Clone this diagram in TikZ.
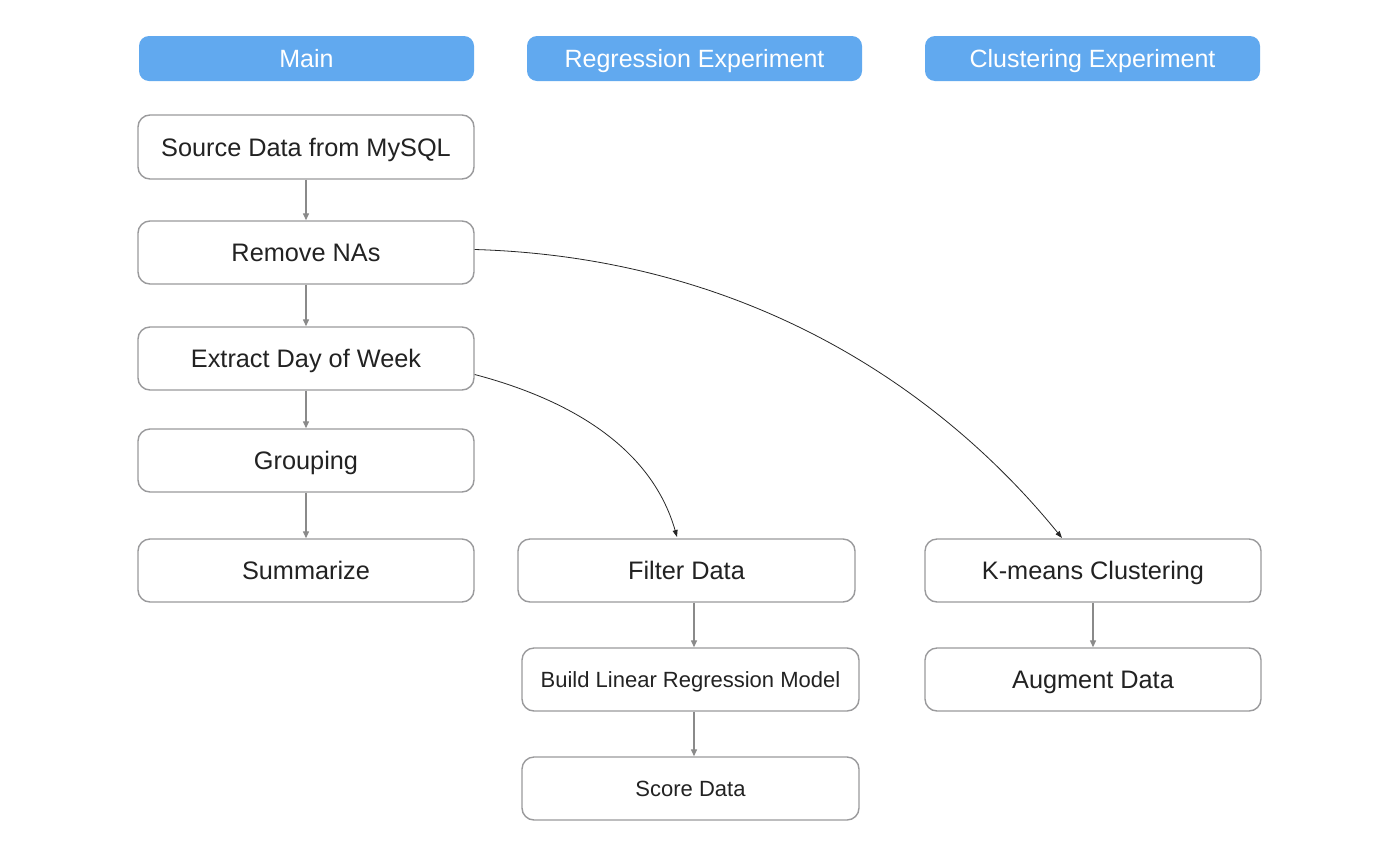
\documentclass[tikz,border=0pt]{standalone}
\usepackage{fontspec}
\setmainfont{Liberation Sans}
\usetikzlibrary{arrows.meta,calc}
\definecolor{hdr}{HTML}{61A9EF}
\definecolor{bord}{HTML}{9A9A9C}
\definecolor{txt}{HTML}{222222}
\definecolor{arr}{HTML}{8A8A8A}
\tikzset{
  hbox/.style={fill=hdr, draw=none, rounded corners=10pt, minimum width=335pt, minimum height=45pt, inner sep=0pt, text=white, font=\fontsize{25}{29}\selectfont, text height=18pt, text depth=0pt},
  pbox/.style={fill=white, draw=bord, line width=1.4pt, rounded corners=12pt, minimum width=336pt, minimum height=63pt, inner sep=0pt, text=txt, font=\fontsize{25.3}{29}\selectfont, text height=18.1pt, text depth=0pt},
  sbox/.style={pbox, font=\fontsize{22}{26}\selectfont, text height=15.8pt},
  varr/.style={draw=arr, line width=1.3pt, -{Triangle[length=7pt,width=6pt]}},
  carr/.style={draw=black!85, line width=0.8pt, -{Triangle[length=7pt,width=5pt]}}
}
\begin{document}
\begin{tikzpicture}[x=1pt,y=-1pt]
\useasboundingbox[fill=white] (0,0) rectangle (1394,844);
\node[hbox] (hmain) at (306.5,58.5) {Main};
\node[hbox] (hreg) at (694.5,58.5) {Regression Experiment};
\node[hbox] (hclu) at (1092.5,58.5) {Clustering Experiment};

\node[pbox, minimum height=64pt] (source) at (306,147) {Source Data from MySQL};
\node[pbox] (remove) at (306,252.5) {Remove NAs};
\node[pbox] (extract) at (306,358.5) {Extract Day of Week};
\node[pbox] (group) at (306,460.5) {Grouping};
\node[pbox] (summ) at (306,570.5) {Summarize};

\node[pbox, minimum width=337pt] (filter) at (686.5,570.5) {Filter Data};
\node[sbox, minimum width=337pt] (build) at (690.5,679.5) {Build Linear Regression Model};
\node[sbox, minimum width=337pt] (score) at (690.5,788.5) {Score Data};

\node[pbox] (kmeans) at (1093,570.5) {K-means Clustering};
\node[pbox] (augment) at (1093,679.5) {Augment Data};

\draw[varr] (source) -- (remove);
\draw[varr] (remove) -- (extract);
\draw[varr] (extract) -- (group);
\draw[varr] (group) -- (summ);
\coordinate (fb) at ($(filter.south)+(7.5,0)$);
\draw[varr] (fb) -- (fb |- build.north);
\coordinate (bb) at ($(build.south)+(3.5,0)$);
\draw[varr] (bb) -- (bb |- score.north);
\draw[varr] (kmeans) -- (augment);

\coordinate (r1) at ($(remove.east)+(0,-3)$);
\coordinate (e1) at ($(extract.east)+(0,16)$);
\coordinate (k1) at (1062,538);
\coordinate (f1) at (677,537);
\draw[carr] (r1) .. controls (760,258) and (950,400) .. (k1);
\draw[carr] (e1) .. controls (590,405) and (655,460) .. (f1);
\end{tikzpicture}
\end{document}
